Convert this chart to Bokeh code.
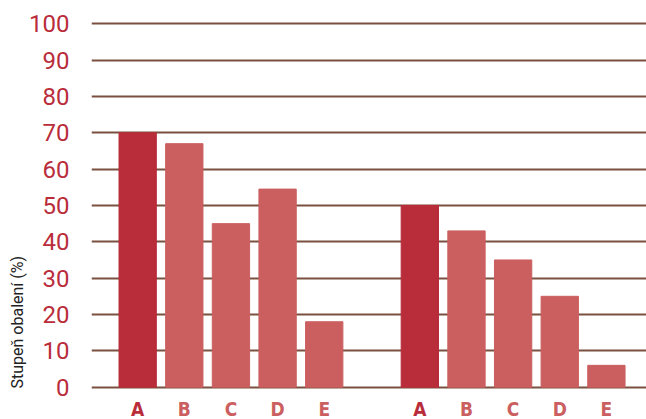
from bokeh.plotting import figure
from bokeh.models import FixedTicker, Range1d, Title, ColumnDataSource
from bokeh.core.properties import value
from bokeh.embed import file_html
from bokeh.resources import INLINE

categories = ["A", "B", "C", "D", "E"]
group1 = [70, 67, 45, 54.5, 18]
group2 = [50, 43, 35, 25, 6]
y_ticks = [0, 10, 20, 30, 40, 50, 60, 70, 80, 90, 100]

DARK = "#b92d3b"
LIGHT = "#cb5f5f"
GRID = "#7a5040"

group_gap = 6.05
xs, tops, colors, labels = [], [], [], []
for g, vals in enumerate([group1, group2]):
    for i, (c, v) in enumerate(zip(categories, vals)):
        xs.append(i + g * group_gap)
        tops.append(v)
        colors.append(DARK if c == "A" else LIGHT)
        labels.append(c)

src = ColumnDataSource(dict(x=xs, top=tops, color=colors, label=labels,
                            ly=[-6.0] * len(xs)))

p = figure(width=646, height=419, output_backend="svg", toolbar_location=None,
           x_range=Range1d(-0.99, 10.91), y_range=Range1d(-8.9, 106.4),
           min_border_left=91, min_border_right=0, min_border_top=0,
           min_border_bottom=0)
p.outline_line_color = None
p.xaxis.visible = False
p.xgrid.visible = False

p.yaxis.ticker = FixedTicker(ticks=y_ticks)
p.yaxis.axis_line_color = None
p.yaxis.major_tick_line_color = None
p.yaxis.minor_tick_line_color = None
p.yaxis.major_label_text_color = DARK
p.yaxis.major_label_text_font = "Roboto"
p.yaxis.major_label_text_font_size = "24px"
p.yaxis.major_label_standoff = 16

p.ygrid.ticker = FixedTicker(ticks=y_ticks)
p.ygrid.grid_line_color = GRID
p.ygrid.grid_line_width = 2

p.vbar(x="x", top="top", bottom=0, width=0.8, color="color", source=src)

p.text(x="x", y="ly", text="label", text_color="color", source=src,
       text_align="center", text_baseline="middle",
       text_font=value("DejaVu Sans Condensed"), text_font_style="bold",
       text_font_size="19px")

p.add_layout(Title(text="Stupeň obalení (%)", align="left", offset=31,
                   text_font="Roboto", text_font_size="16px",
                   text_font_style="normal", text_color="#222222",
                   standoff=0), "left")

open("out.html", "w").write(file_html(p, INLINE))
